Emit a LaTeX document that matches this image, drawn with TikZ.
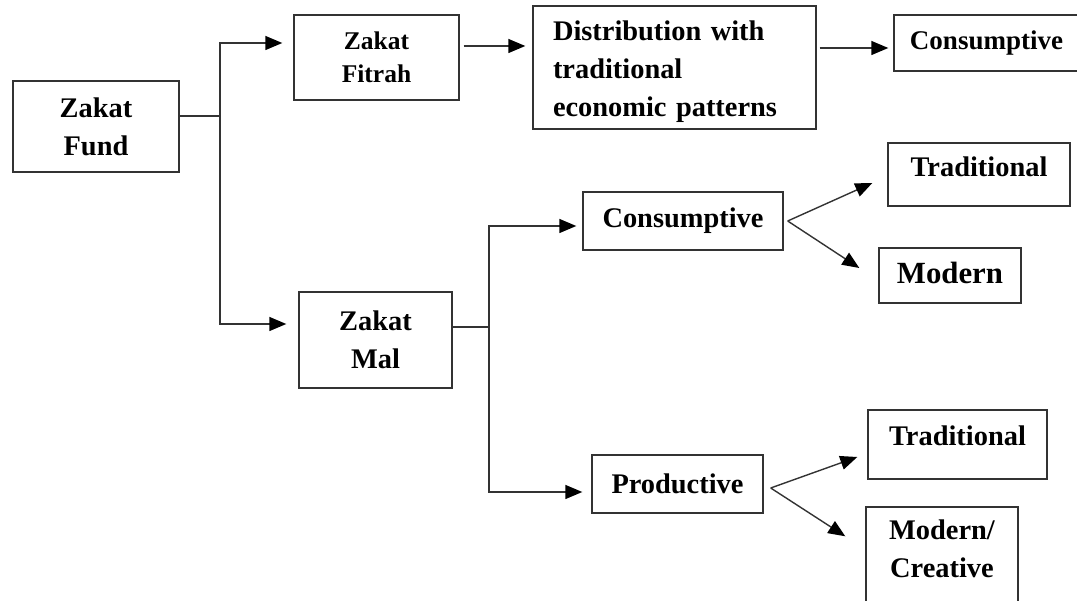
\documentclass[tikz,border=0pt]{standalone}
\usepackage{fontspec}
\setmainfont{Liberation Serif}
\usetikzlibrary{arrows.meta}
\begin{document}
\begin{tikzpicture}[x=1pt,y=-1pt,
  box/.style={draw=black!80,line width=1.4pt,inner sep=0pt,align=center,font=\bfseries\fontsize{28.4}{38}\selectfont},
  conn/.style={black!80,line width=1.4pt},
  arr/.style={conn,-{Triangle[length=17pt,width=14pt,color=black]}}]
  \useasboundingbox (0,0) rectangle (1077,601);
  \clip (0,0) rectangle (1077,601);
  % first level
  \node[box,minimum width=166pt,minimum height=91pt] (fund) at (96,126.5) {Zakat\\Fund};
  \node[box,minimum width=165pt,minimum height=85pt,font=\bfseries\fontsize{25.5}{33}\selectfont] (fitrah) at (376.5,57.5) {Zakat\\Fitrah};
  \node[box,minimum width=153pt,minimum height=96pt] (mal) at (375.5,340) {Zakat\\Mal};
  % zakat fitrah branch
  \node[box,text width=243pt,inner xsep=20pt,minimum height=123pt,align=left] (distr) at (674.5,67.5) {\rule{0pt}{29pt}Distribution with\\traditional\\economic patterns};
  \node[box,minimum width=185pt,minimum height=56pt,font=\bfseries\fontsize{27}{36}\selectfont] (cons1) at (986.5,43) {Consumptive};
  % zakat mal branch
  \node[box,minimum width=200pt,minimum height=58pt] (cmid) at (683,221) {Consumptive};
  \node[box,minimum width=182pt,minimum height=63pt,text depth=15pt] (tmid) at (979,174.5) {Traditional};
  \node[box,minimum width=142pt,minimum height=55pt,text depth=6pt,font=\bfseries\fontsize{30.8}{38}\selectfont] (mmid) at (950,275.5) {Modern};
  \node[box,minimum width=171pt,minimum height=58pt] (prod) at (677.5,484) {Productive};
  \node[box,minimum width=179pt,minimum height=69pt,text depth=18pt] (tbot) at (957.5,444.5) {Traditional};
  \node[box,minimum width=152pt,minimum height=122pt] (mcre) at (942,568) {Modern/\\Creative\\~};
  % connectors
  \coordinate (f1) at (220,116);
  \coordinate (f2) at (489,327);
  \draw[conn] ([yshift=10.5pt]fund.east) -- (f1);
  \draw[arr] (f1) |- ([xshift=-11pt,yshift=14.5pt]fitrah.west);
  \draw[arr] (f1) |- ([xshift=-12pt,yshift=16pt]mal.west);
  \draw[arr] ([xshift=4pt,yshift=11.5pt]fitrah.east) -- ([xshift=-7pt,yshift=21.5pt]distr.west);
  \draw[arr] ([xshift=3pt,yshift=19.5pt]distr.east) -- ([xshift=-5pt,yshift=-5pt]cons1.west);
  \draw[conn] ([yshift=13pt]mal.east) -- (f2);
  \draw[arr] (f2) |- ([xshift=-6pt,yshift=-5pt]cmid.west);
  \draw[arr] (f2) |- ([xshift=-9pt,yshift=-8pt]prod.west);
  \draw[arr] ([xshift=4pt]cmid.east) -- ([xshift=-15pt,yshift=-8.5pt]tmid.west);
  \draw[arr] ([xshift=4pt]cmid.east) -- ([xshift=-19pt,yshift=7.5pt]mmid.west);
  \draw[arr] ([xshift=7pt,yshift=-4pt]prod.east) -- ([xshift=-10pt,yshift=-12.5pt]tbot.west);
  \draw[arr] ([xshift=7pt,yshift=-4pt]prod.east) -- ([xshift=-20pt,yshift=-30pt]mcre.north west);
\end{tikzpicture}
\end{document}
